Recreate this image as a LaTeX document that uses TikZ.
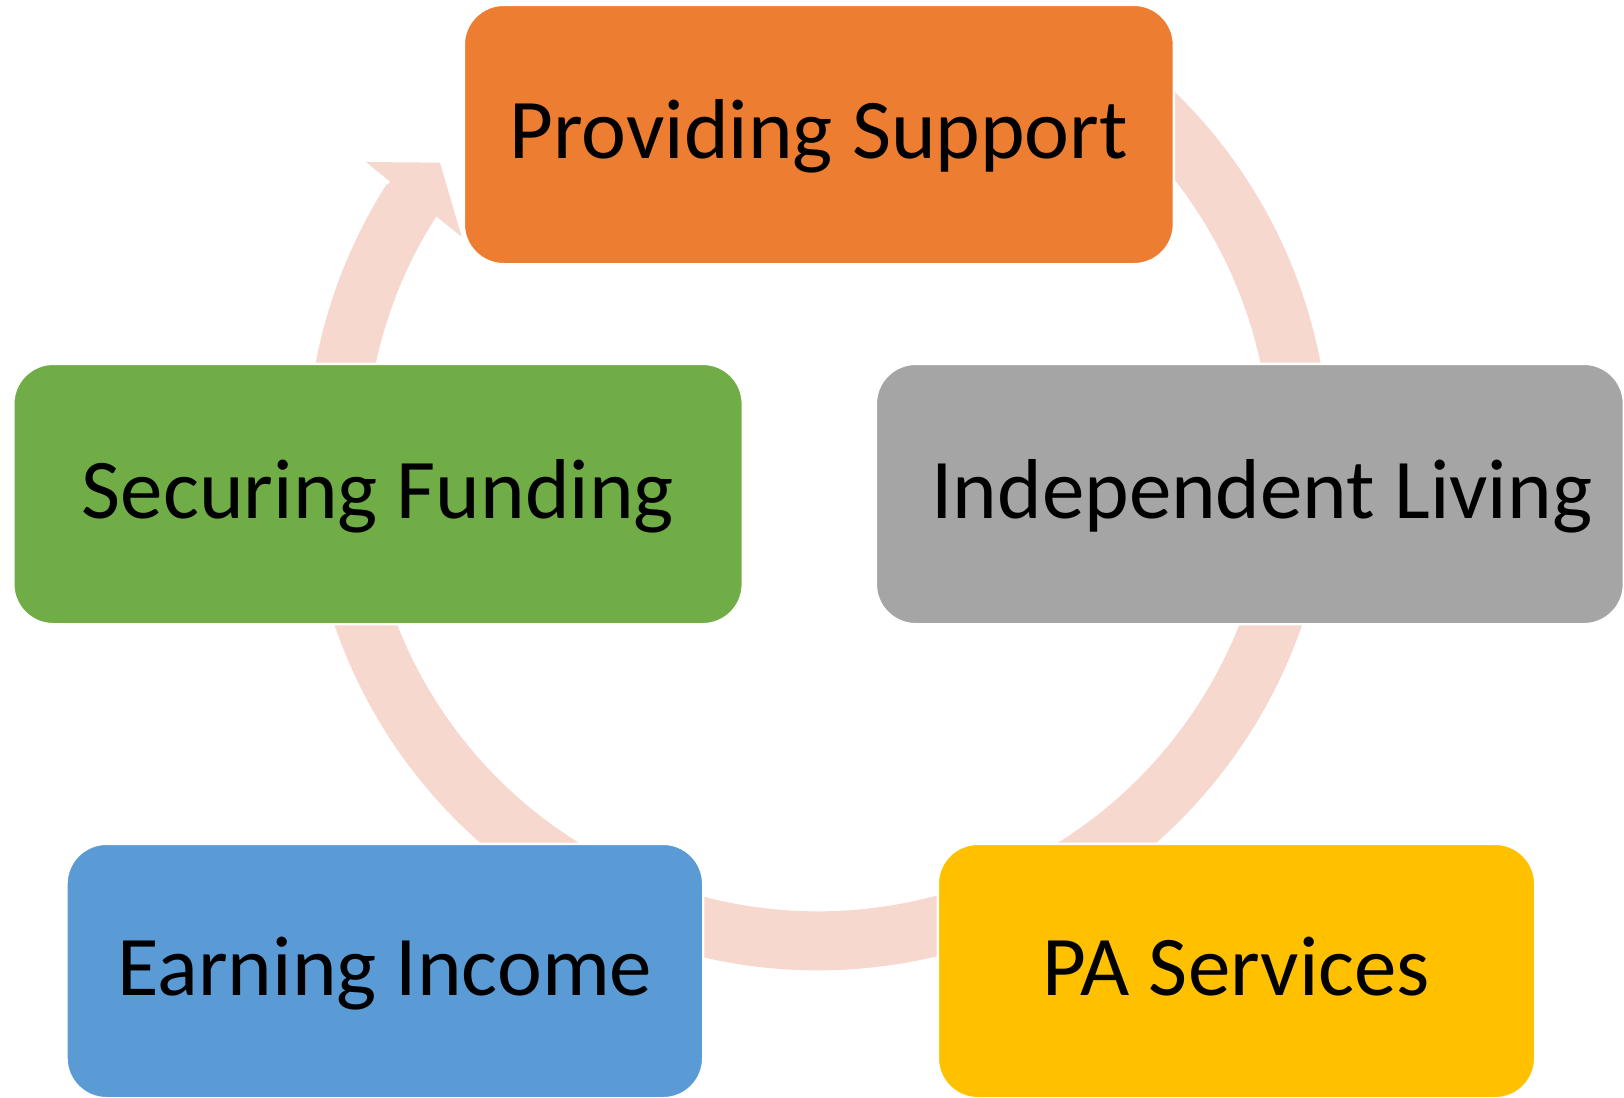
\documentclass[tikz,border=0pt]{standalone}
\usepackage{fontspec}
\setmainfont{Carlito}
\definecolor{cOrange}{HTML}{ED7D31}
\definecolor{cGreen}{HTML}{70AD47}
\definecolor{cGray}{HTML}{A5A5A5}
\definecolor{cBlue}{HTML}{5B9BD5}
\definecolor{cYellow}{HTML}{FFC000}
\definecolor{ringc}{RGB}{247,216,206}
\begin{document}
\begin{tikzpicture}[x=0.5pt,y=-0.5pt,
  box/.style={rectangle, rounded corners=20pt, draw=white, line width=1.2pt, inner sep=0pt,
    font=\fontsize{42.5pt}{50pt}\selectfont, text height=26.9pt, text depth=2.5pt, text=black},
  ring/.style={draw=ringc, line width=29.5pt},
  ringhead/.style={fill=ringc, draw=none}
]
\useasboundingbox (0,0) rectangle (1624,1098);
\coordinate (ctr) at (818.2,458.8);
% circular connector
\draw[ring] (ctr) ++(305:482) arc[start angle=305,end angle=572.5,radius=482];
\fill[ringhead] (375.2,203.05) -- (390,181.7) -- (366,162) -- (440,162.7) -- (461.7,236.7) -- (436.2,216.4) -- (426.3,232.55) -- cycle;
% boxes
\node[box, fill=cOrange, minimum width=355.05pt, minimum height=129.7pt] (ps) at (818.85,134.5) {Providing Support};
\node[box, fill=cGreen, minimum width=364.75pt, minimum height=130.2pt] (sf) at (378.05,494) {Securing Funding};
\node[box, fill=cGray, minimum width=374.05pt, minimum height=130.2pt] (il) at (1249.85,494) {\hspace*{12pt}Independent Living};
\node[box, fill=cBlue, minimum width=318.35pt, minimum height=127.2pt] (ei) at (384.85,971) {Earning Income};
\node[box, fill=cYellow, minimum width=298.7pt, minimum height=127.2pt] (pa) at (1236.5,971) {PA Services};
\end{tikzpicture}
\end{document}
